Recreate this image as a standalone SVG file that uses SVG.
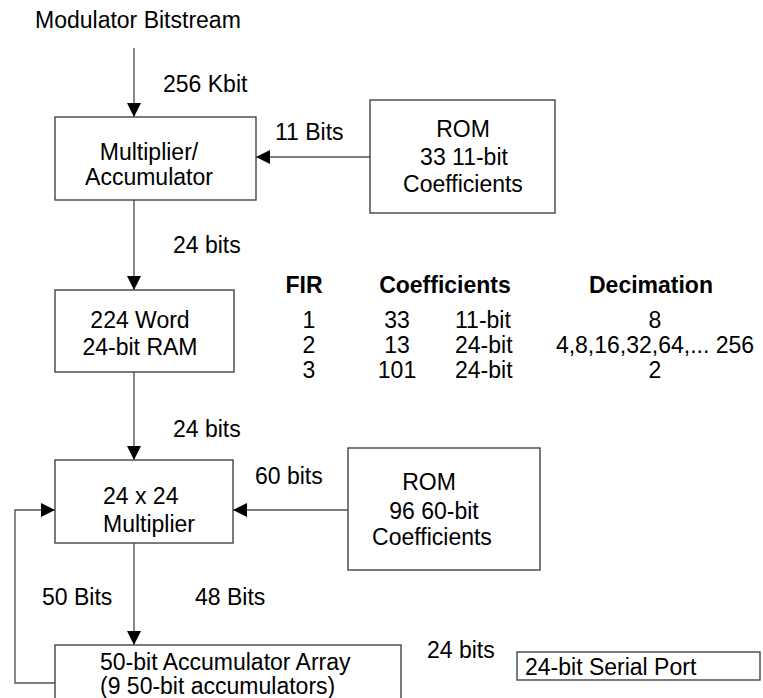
<svg xmlns="http://www.w3.org/2000/svg" width="763" height="698" viewBox="0 0 763 698">
<defs>
<marker id="ah" markerUnits="userSpaceOnUse" markerWidth="14" markerHeight="14" viewBox="0 0 14 14" refX="14" refY="7" orient="auto">
<path d="M0,0 L14,7 L0,14 Z" fill="#000"/>
</marker>
</defs>
<style>
text{font-family:"Liberation Sans",Arial,sans-serif;font-size:23px;fill:#000}
.b{font-weight:bold}
.m{text-anchor:middle}
rect{fill:#fff;stroke:#444;stroke-width:1.4}
.c{fill:none;stroke:#555;stroke-width:1.4}
</style>
<rect x="0" y="0" width="763" height="698" style="fill:#fff;stroke:none"/>
<g id="connectors">
<line class="c" x1="134" y1="48" x2="134" y2="117" marker-end="url(#ah)"/>
<line class="c" x1="370" y1="157" x2="256" y2="157" marker-end="url(#ah)"/>
<line class="c" x1="134" y1="200" x2="134" y2="290" marker-end="url(#ah)"/>
<line class="c" x1="134" y1="372" x2="134" y2="460" marker-end="url(#ah)"/>
<line class="c" x1="348" y1="510" x2="233" y2="510" marker-end="url(#ah)"/>
<line class="c" x1="134" y1="543" x2="134" y2="645" marker-end="url(#ah)"/>
<polyline class="c" points="55,683 15,683 15,510 55,510" marker-end="url(#ah)"/>
</g>
<g id="labels">
<text x="35" y="28">Modulator Bitstream</text>
<text x="163" y="92">256 Kbit</text>
<text x="275" y="140">11 Bits</text>
<text x="173" y="253">24 bits</text>
<text x="173" y="437">24 bits</text>
<text x="255" y="484">60 bits</text>
<text x="42" y="605">50 Bits</text>
<text x="195" y="605">48 Bits</text>
<text x="427" y="658">24 bits</text>
</g>
<g id="mac">
<rect x="55" y="117" width="201" height="83"/>
<text class="m" x="149" y="160">Multiplier/</text>
<text class="m" x="149" y="185">Accumulator</text>
</g>
<g id="rom1">
<rect x="370" y="100" width="185" height="113"/>
<text class="m" x="463" y="137">ROM</text>
<text class="m" x="464" y="165">33 11-bit</text>
<text class="m" x="463" y="192">Coefficients</text>
</g>
<g id="ram">
<rect x="55" y="290" width="179" height="82"/>
<text class="m" x="140" y="328">224 Word</text>
<text class="m" x="140" y="355">24-bit RAM</text>
</g>
<g id="fir-table">
<text class="b m" x="304" y="293">FIR</text>
<text class="b m" x="445" y="293">Coefficients</text>
<text class="b m" x="651" y="293">Decimation</text>
<text class="m" x="309" y="328">1</text>
<text class="m" x="309" y="353">2</text>
<text class="m" x="309" y="378">3</text>
<text class="m" x="397" y="328">33</text>
<text class="m" x="397" y="353">13</text>
<text class="m" x="397" y="378">101</text>
<text x="455" y="328">11-bit</text>
<text x="455" y="353">24-bit</text>
<text x="455" y="378">24-bit</text>
<text class="m" x="655" y="328">8</text>
<text class="m" x="655" y="353">4,8,16,32,64,... 256</text>
<text class="m" x="655" y="378">2</text>
</g>
<g id="mult">
<rect x="55" y="460" width="178" height="83"/>
<text x="103" y="504">24 x 24</text>
<text x="103" y="532">Multiplier</text>
</g>
<g id="rom2">
<rect x="348" y="448" width="192" height="122"/>
<text class="m" x="429" y="490">ROM</text>
<text class="m" x="434" y="519">96 60-bit</text>
<text class="m" x="432" y="545">Coefficients</text>
</g>
<g id="acc">
<rect x="55" y="645" width="346" height="70"/>
<text x="100" y="670">50-bit Accumulator Array</text>
<text x="100" y="694">(9 50-bit accumulators)</text>
</g>
<g id="serial">
<rect x="517" y="652" width="243" height="28"/>
<text x="525" y="675">24-bit Serial Port</text>
</g>
</svg>
